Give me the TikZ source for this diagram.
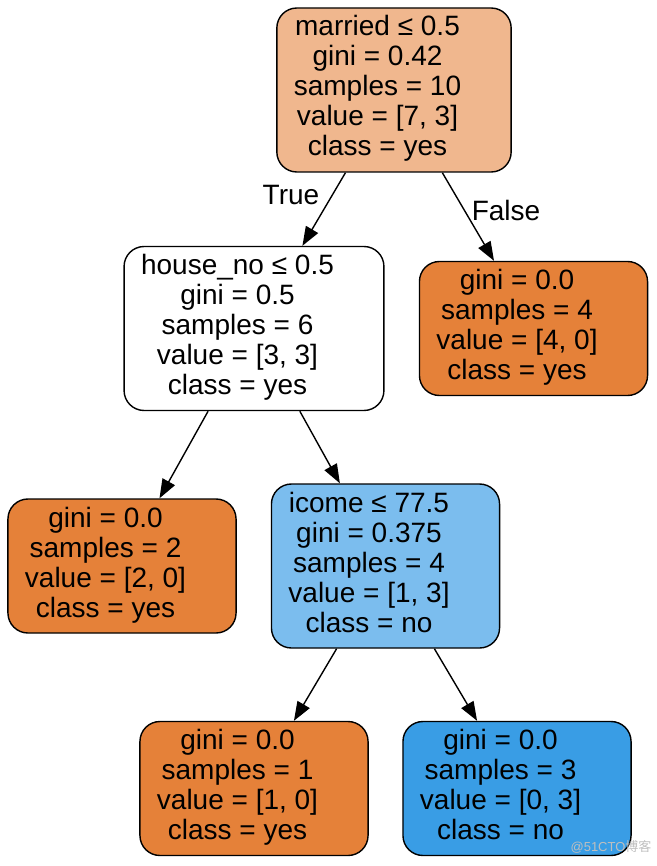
\documentclass[tikz,border=0pt]{standalone}
\usepackage{fontspec}
\setmainfont{Liberation Sans}
\newfontfamily\cjkfont{Noto Sans CJK SC}
\usetikzlibrary{arrows.meta}

\definecolor{leafyes}{HTML}{E58139}
\definecolor{leafno}{HTML}{399DE5}
\definecolor{mixyes}{HTML}{F0B78E}
\definecolor{mixno}{HTML}{7BBDEE}

% graphviz sets the lines a little left of the box centre
\newcommand{\treetext}[1]{\begin{tabular}{@{}c@{}}#1\end{tabular}\hspace*{33pt}}

\begin{document}
\begin{tikzpicture}[x=1pt, y=-1pt,
    treebox/.style={draw=black, line width=1.4pt, rounded corners=20pt,
        inner xsep=17pt, inner ysep=7pt, font=\fontsize{28}{30}\selectfont},
    branch/.style={line width=1.4pt, -{Triangle[length=19pt, width=14pt]}},
    edgelabel/.style={font=\fontsize{28}{30}\selectfont, inner sep=0pt}]
        \useasboundingbox (0,0) rectangle (656,866);

        \node[treebox, fill=mixyes] (N1) at (394, 90) {\treetext{married ≤ 0.5\\gini = 0.42\\samples = 10\\value = [7, 3]\\class = yes}};
        \node[treebox, fill=white] (N2) at (254, 328.5) {\treetext{house\_no ≤ 0.5\\gini = 0.5\\samples = 6\\value = [3, 3]\\class = yes}};
        \node[treebox, fill=leafyes] (N3) at (533.5, 328.5) {\treetext{gini = 0.0\\samples = 4\\value = [4, 0]\\class = yes}};

        \node[treebox, fill=leafyes] (N4) at (122, 566) {\treetext{gini = 0.0\\samples = 2\\value = [2, 0]\\class = yes}};
        \node[treebox, fill=mixno] (N5) at (385.5, 566) {\treetext{icome ≤ 77.5\\gini = 0.375\\samples = 4\\value = [1, 3]\\class = no}};

        \node[treebox, fill=leafyes] (N6) at (254, 788.5) {\treetext{gini = 0.0\\samples = 1\\value = [1, 0]\\class = yes}};
        \node[treebox, fill=leafno] (N7) at (517, 788.5) {\treetext{gini = 0.0\\samples = 3\\value = [0, 3]\\class = no}};

        \draw[branch] (N1) to (N2);
        \draw[branch] (N1) to (N3);
        \draw[branch] (N2) to (N4);
        \draw[branch] (N2) to (N5);
        \draw[branch] (N5) to (N6);
        \draw[branch] (N5) to (N7);

        \node[edgelabel] (T1) at (291, 195) {True};
        \node[edgelabel] (F1) at (506, 210) {False};

        \node[text=black!25, font=\fontsize{13}{13}\selectfont, inner sep=0pt] (W1) at (611, 847) {@51CTO{\cjkfont 博客}};
    \end{tikzpicture}
\end{document}
